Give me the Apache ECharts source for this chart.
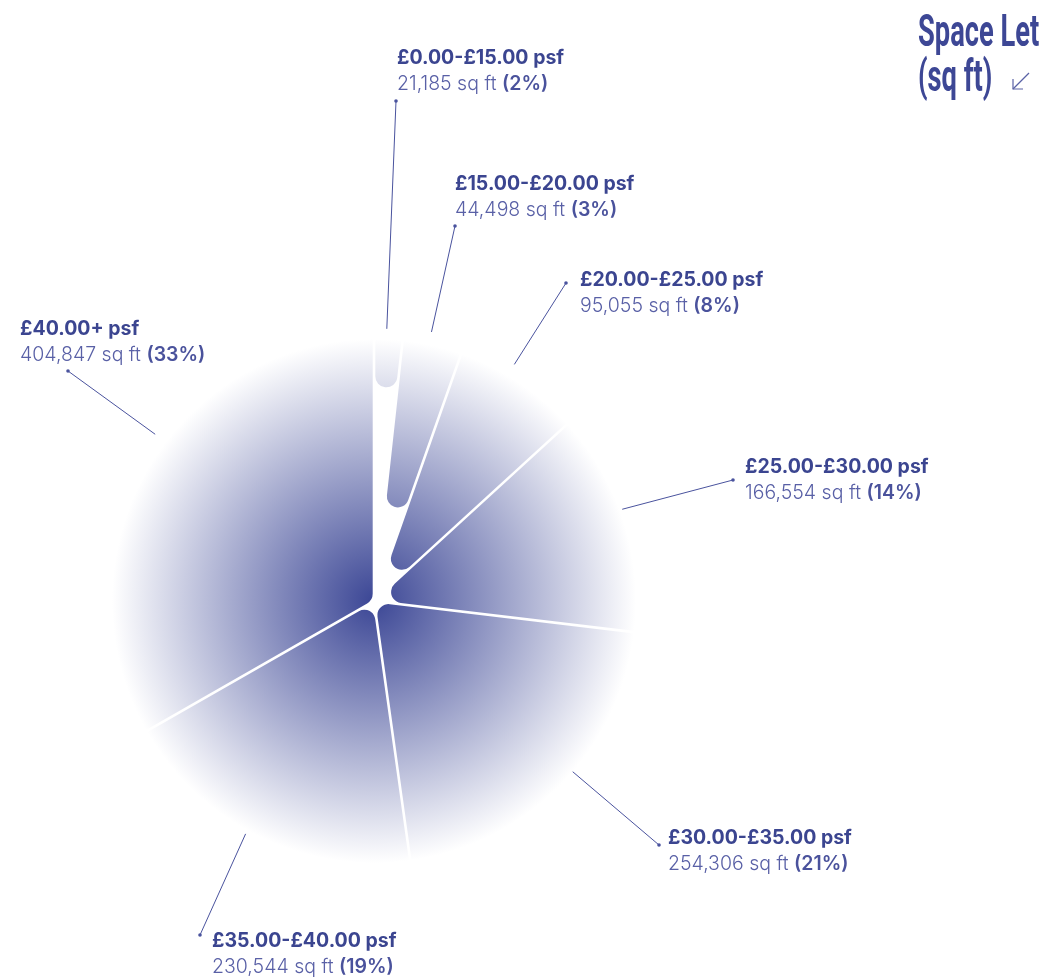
<!DOCTYPE html>
<html>
<head>
<meta charset="utf-8">
<script src="https://cdn.jsdelivr.net/npm/echarts@6/dist/echarts.min.js"></script>
<style>
  html, body { margin: 0; padding: 0; background: #ffffff; }
  #chart { width: 1045px; height: 977px; }
</style>
</head>
<body>
<div id="chart"></div>
<script>
// Rent bands and the space let in each
const categories = [
  '£0.00-£15.00 psf',
  '£15.00-£20.00 psf',
  '£20.00-£25.00 psf',
  '£25.00-£30.00 psf',
  '£30.00-£35.00 psf',
  '£35.00-£40.00 psf',
  '£40.00+ psf'
];
const spaceLet = [21185, 44498, 95055, 166554, 254306, 230544, 404847];
const shareText = ['2%', '3%', '8%', '14%', '21%', '19%', '33%'];

// Label layout: text block anchor (left, first-line centre) and leader tip
const labelAt = [[397, 58], [455, 184], [580, 280], [745, 467], [668, 838], [212, 941], [20, 329]];
const leaderTip = [[396, 101], [455, 226], [566, 283], [733, 480], [659, 845], [200, 935], [68, 371]];
// Where each leader leaves its slice: [radius factor, fraction across the slice]
const leaderFrom = [[1.04, 0.43], [1.05, 0.44], [1.05, 0.40], [1.01, 0.45], [1.0, 0.45], [1.015, 0.54], [1.05, 0.56]];

const NAVY = '#3b4590';
const NAVY_LIGHT = '#5960a6';
const LINE = '#4a539e';
const FONT = 'Inter';
const GAP = 1.3;   // half the white gap between slices
const TIP = 11;    // rounding of each slice's inner point

const total = spaceLet.reduce((a, b) => a + b, 0);
let running = 0;
const sectors = spaceLet.map((v, i) => {
  const start = running;
  running += v;
  return [1, start, running, i];
});

// Slice outline: edges pulled in by GAP, inner point rounded with radius TIP
function sectorPath(c, R, t0, t1) {
  const half = (t1 - t0) / 2;
  const d = (GAP + TIP) / Math.sin(half);
  const L = d * Math.cos(half);
  const u0 = [Math.cos(t0), Math.sin(t0)], n0 = [-Math.sin(t0), Math.cos(t0)];
  const u1 = [Math.cos(t1), Math.sin(t1)], n1 = [-Math.sin(t1), Math.cos(t1)];
  const T0 = [c[0] + L * u0[0] + GAP * n0[0], c[1] + L * u0[1] + GAP * n0[1]];
  const T1 = [c[0] + L * u1[0] - GAP * n1[0], c[1] + L * u1[1] - GAP * n1[1]];
  const dl = Math.asin(GAP / R);
  const Q0 = [c[0] + R * Math.cos(t0 + dl), c[1] + R * Math.sin(t0 + dl)];
  const Q1 = [c[0] + R * Math.cos(t1 - dl), c[1] + R * Math.sin(t1 - dl)];
  const large = (t1 - t0 - 2 * dl) > Math.PI ? 1 : 0;
  return 'M' + T0[0] + ' ' + T0[1] +
    ' L' + Q0[0] + ' ' + Q0[1] +
    ' A' + R + ' ' + R + ' 0 ' + large + ' 1 ' + Q1[0] + ' ' + Q1[1] +
    ' L' + T1[0] + ' ' + T1[1] +
    ' A' + TIP + ' ' + TIP + ' 0 0 1 ' + T0[0] + ' ' + T0[1] + ' Z';
}

function renderItem(params, api) {
  const i = params.dataIndex;
  const v0 = api.value(1), v1 = api.value(2);
  const c = api.coord([0, v0]);
  const o0 = api.coord([1, v0]);
  const o1 = api.coord([1, v1]);
  const R = Math.hypot(o0[0] - c[0], o0[1] - c[1]);
  const t0 = Math.atan2(o0[1] - c[1], o0[0] - c[0]);
  let t1 = Math.atan2(o1[1] - c[1], o1[0] - c[0]);
  while (t1 <= t0 + 1e-9) t1 += Math.PI * 2;

  const from = api.coord([leaderFrom[i][0], v0 + leaderFrom[i][1] * (v1 - v0)]);
  const tip = leaderTip[i];

  const text = '{b|' + categories[i] + '}\n{r|' + echarts.format.addCommas(spaceLet[i]) +
    ' sq ft }{p|(' + shareText[i] + ')}';

  return {
    type: 'group',
    children: [
      {
        type: 'path',
        shape: { pathData: sectorPath(c, R, t0, t1) },
        style: {
          fill: {
            type: 'radial', x: c[0], y: c[1], r: R, global: true,
            colorStops: [
              { offset: 0, color: '#3b4695' },
              { offset: 1, color: '#ffffff' }
            ]
          }
        }
      },
      {
        type: 'line',
        shape: { x1: from[0], y1: from[1], x2: tip[0], y2: tip[1] },
        style: { stroke: LINE, lineWidth: 1 }
      },
      {
        type: 'circle',
        shape: { cx: tip[0], cy: tip[1], r: 1.8 },
        style: { fill: LINE }
      },
      {
        type: 'text',
        x: labelAt[i][0],
        y: labelAt[i][1] - 13,
        style: {
          text: text,
          align: 'left',
          verticalAlign: 'top',
          rich: {
            b: { fontFamily: FONT, fontSize: 19.5, fontWeight: 700, fill: NAVY, color: NAVY, lineHeight: 26 },
            r: { fontFamily: FONT, fontSize: 19.5, fontWeight: 300, fill: NAVY_LIGHT, color: NAVY_LIGHT, lineHeight: 26 },
            p: { fontFamily: FONT, fontSize: 19.5, fontWeight: 600, fill: '#4a529c', color: '#4a529c', lineHeight: 26 }
          }
        }
      }
    ]
  };
}

const chart = echarts.init(document.getElementById('chart'), null, { renderer: 'canvas' });
chart.setOption({
  animation: false,
  backgroundColor: '#ffffff',
  polar: { center: [374, 601], radius: 262 },
  angleAxis: {
    type: 'value', min: 0, max: total, startAngle: 90, clockwise: true,
    axisLine: { show: false }, axisTick: { show: false }, axisLabel: { show: false }, splitLine: { show: false }
  },
  radiusAxis: {
    type: 'value', min: 0, max: 1,
    axisLine: { show: false }, axisTick: { show: false }, axisLabel: { show: false }, splitLine: { show: false }
  },
  graphic: [
    {
      type: 'text', x: 918, y: 13, scaleX: 0.62,
      style: { text: 'Space Let', font: 'bold 44px Roboto', fill: '#3d4795', verticalAlign: 'top' }
    },
    {
      type: 'text', x: 918, y: 58, scaleX: 0.62,
      style: { text: '(sq ft)', font: 'bold 44px Roboto', fill: '#3d4795', verticalAlign: 'top' }
    },
    {
      type: 'polyline',
      shape: { points: [[1013, 79], [1013, 89], [1023, 89]] },
      style: { stroke: '#5a62a6', lineWidth: 1.2, fill: null }
    },
    {
      type: 'line',
      shape: { x1: 1013, y1: 89, x2: 1029, y2: 73 },
      style: { stroke: '#5a62a6', lineWidth: 1.2 }
    }
  ],
  series: [{
    type: 'custom',
    coordinateSystem: 'polar',
    data: sectors,
    renderItem: renderItem
  }]
});
</script>
</body>
</html>
